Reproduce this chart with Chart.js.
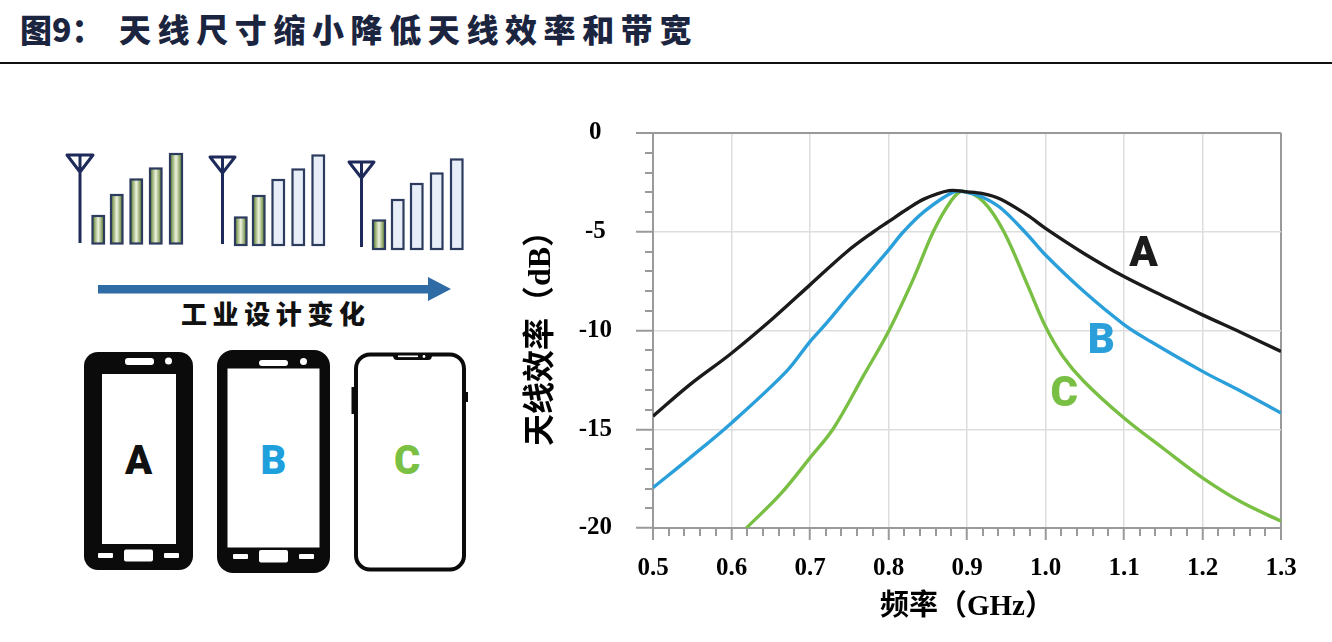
<!DOCTYPE html>
<html><head><meta charset="utf-8">
<script src="https://cdn.jsdelivr.net/npm/chart.js@4.4.0/dist/chart.umd.min.js"></script>
<style>
html,body{margin:0;padding:0;background:#fff;}
body{width:1332px;height:642px;position:relative;overflow:hidden;font-family:"Noto Sans CJK SC",sans-serif;}
.ttl{position:absolute;top:12px;font-size:32px;line-height:32px;font-weight:900;color:#1b2540;white-space:nowrap;}
#title1{left:20px;}
#title2{left:119px;letter-spacing:6.6px;}
#rule{position:absolute;left:0;top:62px;width:1332px;height:2px;background:#111;}
#illus{position:absolute;left:0;top:0;}
#chartBox{position:absolute;left:520px;top:94px;width:812px;height:548px;}
#chartBox canvas{display:block;}
</style></head>
<body>
<div class="ttl" id="title1">图9：</div>
<div class="ttl" id="title2">天线尺寸缩小降低天线效率和带宽</div>
<div id="rule"></div>

<svg id="illus" width="520" height="642" viewBox="0 0 520 642">
<defs>
<linearGradient id="gr" x1="0" x2="1" y1="0" y2="0">
<stop offset="0" stop-color="#577a25"/><stop offset="0.5" stop-color="#eef3df"/><stop offset="1" stop-color="#577a25"/>
</linearGradient>
</defs>
<g stroke="#1e2a5a" stroke-width="3" fill="none" stroke-linejoin="round">
<path d="M67 155 H93 L80 172 Z M80 155 V243"/>
<path d="M210 157 H235 L222.5 173 Z M222.5 157 V244"/>
<path d="M349 162 H374 L361.5 178 Z M361.5 162 V247"/>
</g>
<g stroke="#2c3b5e" stroke-width="2.2">
<rect x="92.5" y="216" width="11.5" height="27.5" fill="url(#gr)"/>
<rect x="111" y="195" width="11.5" height="48.5" fill="url(#gr)"/>
<rect x="130.5" y="179.5" width="11.5" height="64" fill="url(#gr)"/>
<rect x="150" y="168.5" width="11.5" height="75" fill="url(#gr)"/>
<rect x="170" y="154" width="12" height="89.5" fill="url(#gr)"/>

<rect x="235" y="217.5" width="11.5" height="27.5" fill="url(#gr)"/>
<rect x="253" y="196" width="11.5" height="49" fill="url(#gr)"/>
<rect x="272.5" y="180" width="11.5" height="65" fill="#e8eef8"/>
<rect x="292.5" y="169.5" width="11.5" height="75.5" fill="#e8eef8"/>
<rect x="312.5" y="155.5" width="11.5" height="89.5" fill="#e8eef8"/>

<rect x="373" y="220.5" width="12" height="28.5" fill="url(#gr)"/>
<rect x="392" y="200" width="11.5" height="49" fill="#e8eef8"/>
<rect x="411" y="184" width="11.5" height="65" fill="#e8eef8"/>
<rect x="431" y="173.5" width="11.5" height="75.5" fill="#e8eef8"/>
<rect x="451" y="159.5" width="11.5" height="89.5" fill="#e8eef8"/>
</g>
<rect x="98" y="285" width="332" height="8.5" fill="#2f6ba5"/>
<polygon points="428,277 451,289 428,301" fill="#2f6ba5"/>
<text x="181" y="324" font-family="Noto Sans CJK SC" font-weight="900" font-size="26" fill="#111" style="letter-spacing:5.6px">工业设计变化</text>

<!-- phone A -->
<rect x="84" y="352" width="109" height="218" rx="14" fill="#0b0b0b"/>
<rect x="102" y="374" width="74" height="170" fill="#fff"/>
<rect x="125" y="358" width="29" height="7" rx="3" fill="#fff"/>
<circle cx="168.5" cy="361" r="3.5" fill="#fff"/>
<rect x="98" y="553" width="15" height="5" rx="1" fill="#fff"/>
<rect x="124" y="549.5" width="29" height="12" rx="2" fill="#fff"/>
<rect x="164" y="553" width="15" height="5" rx="1" fill="#fff"/>
<!-- phone B -->
<rect x="217" y="350" width="113" height="223" rx="16" fill="#0b0b0b"/>
<rect x="227.5" y="368.5" width="92" height="179" fill="#fff"/>
<rect x="259" y="360" width="29" height="6" rx="3" fill="#fff"/>
<circle cx="303.5" cy="361.5" r="3.5" fill="#fff"/>
<rect x="233" y="554" width="15" height="5" rx="1" fill="#fff"/>
<rect x="259" y="550" width="29" height="12.5" rx="2" fill="#fff"/>
<rect x="299" y="554" width="15" height="5" rx="1" fill="#fff"/>
<!-- phone C -->
<rect x="356" y="354.5" width="108" height="215" rx="14" fill="#fff" stroke="#0b0b0b" stroke-width="4"/>
<path d="M392 354 H433 L431 359 Q430 360 428 360 H397 Q395 360 394 359 Z" fill="#0b0b0b"/>
<rect x="398" y="355.5" width="20" height="1.6" fill="#fff"/>
<circle cx="424" cy="356.5" r="1.4" fill="#fff"/>
<rect x="351.5" y="387" width="3" height="27" fill="#0b0b0b"/>
<rect x="465.5" y="392" width="2.5" height="10" fill="#0b0b0b"/>
<g font-family="Roboto" font-weight="900" font-size="40" text-anchor="middle">
<text x="138.5" y="474" fill="#111">A</text>
<text x="273.5" y="474" fill="#1ea0dc">B</text>
<text x="407" y="474" fill="#7ac143">C</text>
</g>
</svg>

<div id="chartBox"><canvas id="c" width="812" height="548"></canvas></div>

<script>
// ---- data ----
const freqA = [0.5, 0.547, 0.6, 0.653, 0.7, 0.747, 0.781, 0.8, 0.824, 0.845, 0.877, 0.9, 0.92, 0.943, 0.977, 1.0, 1.049, 1.1, 1.156, 1.2, 1.249, 1.3];
const effA  = [-14.34, -12.74, -11.15, -9.38, -7.69, -6.01, -5.0, -4.49, -3.85, -3.35, -2.92, -2.98, -3.07, -3.35, -4.16, -4.83, -6.1, -7.27, -8.37, -9.21, -10.1, -11.06];

const freqB = [0.5, 0.547, 0.6, 0.67, 0.7, 0.721, 0.751, 0.8, 0.819, 0.845, 0.883, 0.9, 0.92, 0.943, 0.977, 1.0, 1.049, 1.1, 1.134, 1.2, 1.249, 1.3];
const effB  = [-17.96, -16.45, -14.68, -12.07, -10.56, -9.63, -8.2, -5.93, -5.0, -3.99, -2.98, -3.0, -3.25, -3.8, -5.15, -6.18, -8.03, -9.7, -10.56, -12.07, -13.08, -14.18];

const freqC = [0.619, 0.662, 0.7, 0.73, 0.768, 0.8, 0.832, 0.857, 0.879, 0.894, 0.921, 0.947, 0.977, 1.0, 1.022, 1.049, 1.1, 1.151, 1.2, 1.25, 1.3];
const effC  = [-20.0, -18.3, -16.45, -14.95, -12.3, -10.05, -7.36, -5.0, -3.48, -2.95, -3.48, -5.0, -7.69, -9.8, -11.3, -12.58, -14.43, -16.0, -17.46, -18.7, -19.65];

const curveNames  = ['A', 'B', 'C'];
const curveColors = ['#1b1b1b', '#2a9fda', '#79bf44'];
const labelFreq = [1.125, 1.071, 1.024];
const labelEff  = [-6.0, -10.4, -13.05];

const xMin = 0.5, xMax = 1.3, xStep = 0.1, xMinorStep = 0.02;
const yMin = -20, yMax = 0, yStep = 5, yMinorStep = 1;
const xTitle = '频率（GHz）';
const yTitle = '天线效率（dB）';

const toPts = (fx, fy) => fx.map((f, i) => ({x: f, y: fy[i]}));
const series = [toPts(freqA, effA), toPts(freqB, effB), toPts(freqC, effC)];

const axisGray = '#9a9a9a';
const gridGray = '#dddddd';
const near = (a, b) => Math.abs(a - b) < 1e-6;

const minorTicks = {
  id: 'minorTicks',
  beforeDatasetsDraw(chart) {
    const {ctx, scales: {x, y}} = chart;
    ctx.save();
    ctx.strokeStyle = axisGray; ctx.lineWidth = 2;
    ctx.beginPath();
    const nx = Math.round((xMax - xMin) / xMinorStep);
    for (let k = 0; k <= nx; k++) {
      if (k % 5 === 0) continue;
      const px = Math.round(x.getPixelForValue(xMin + k * xMinorStep));
      ctx.moveTo(px, y.bottom); ctx.lineTo(px, y.bottom + 8);
    }
    for (let v = yMin; v <= yMax; v += yMinorStep) {
      if (v % yStep === 0) continue;
      const py = Math.round(y.getPixelForValue(v));
      ctx.moveTo(x.left, py); ctx.lineTo(x.left - 8, py);
    }
    ctx.stroke();
    ctx.restore();
  }
};

const curveLabels = {
  id: 'curveLabels',
  afterDatasetsDraw(chart) {
    const {ctx, scales: {x, y}} = chart;
    ctx.save();
    const size = 42;
    ctx.font = '900 ' + size + 'px Roboto';
    ctx.textAlign = 'center';
    ctx.textBaseline = 'alphabetic';
    curveNames.forEach((n, i) => {
      ctx.fillStyle = curveColors[i];
      ctx.fillText(n, x.getPixelForValue(labelFreq[i]), y.getPixelForValue(labelEff[i]) + size * 0.355);
    });
    ctx.restore();
  }
};

const tickFont = {family: 'Liberation Serif', size: 25, weight: 'bold'};
const axisTitleFamily = "'Liberation Serif', 'Noto Sans CJK SC'";

new Chart(document.getElementById('c'), {
  type: 'line',
  data: {
    datasets: series.map((pts, i) => ({
      label: curveNames[i],
      data: pts,
      borderColor: curveColors[i],
      borderWidth: 3.4,
      pointRadius: 0,
      fill: false,
      tension: 0.35
    }))
  },
  options: {
    responsive: false,
    animation: false,
    layout: {padding: {left: 0, right: 51, top: 25, bottom: 0}},
    plugins: {legend: {display: false}, tooltip: {enabled: false}},
    scales: {
      x: {
        type: 'linear', min: xMin, max: xMax,
        ticks: {stepSize: xStep, autoSkip: false, maxRotation: 0, padding: 13.5,
          callback: v => Number(v).toFixed(1), font: tickFont, color: '#000'},
        grid: {
          color: c => (near(c.tick.value, xMax) || near(c.tick.value, xMin)) ? axisGray : gridGray,
          lineWidth: c => (near(c.tick.value, xMax) || near(c.tick.value, xMin)) ? 2 : 1.5,
          tickLength: 12, tickColor: axisGray, tickWidth: 2
        },
        border: {color: axisGray, width: 2},
        title: {display: true, text: xTitle, font: {family: axisTitleFamily, size: 29, weight: 'bold'}, color: '#000', padding: {top: 0, bottom: 17}},
        afterFit: s => { s.height = 114; }
      },
      y: {
        type: 'linear', min: yMin, max: yMax,
        ticks: {stepSize: yStep, padding: 24, crossAlign: 'center', font: tickFont, color: '#000',
          callback: v => String(v)},
        grid: {
          color: c => near(c.tick.value, yMax) ? axisGray : gridGray,
          lineWidth: c => near(c.tick.value, yMax) ? 2 : 1.5,
          tickLength: 17, tickColor: axisGray, tickWidth: 2
        },
        border: {color: axisGray, width: 2},
        title: {display: true, text: yTitle, font: {family: axisTitleFamily, size: 32, weight: 'bold'}, color: '#000', padding: {top: 3, bottom: 0}},
        afterFit: s => { s.width = 133; }
      }
    }
  },
  plugins: [minorTicks, curveLabels]
});
</script>
</body></html>
